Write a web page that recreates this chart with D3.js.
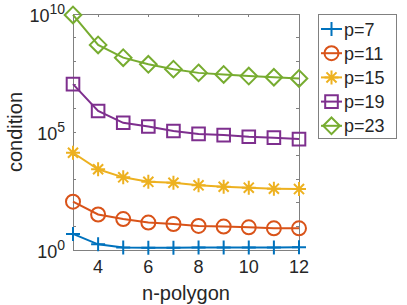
<!DOCTYPE html>
<html lang="en">
<head>
    <meta charset="UTF-8">
    <title>condition vs n-polygon</title>
    <style>
        body { margin: 0; background: #fff; }
        text { font-family: "Liberation Sans", Arial, Helvetica, sans-serif; fill: #262626; }
    </style>
</head>
<body>

<div id="chart"></div>

<script src="https://cdn.jsdelivr.net/npm/d3@7"></script>
<script>
    const width = 407,
          height = 305;

    // n-polygon values
    const nPoly = [3, 4, 5, 6, 7, 8, 9, 10, 11, 12];

    // condition numbers
    const p7  = [4.8, 1.74, 1.29, 1.26, 1.26, 1.29, 1.29, 1.29, 1.29, 1.32];
    const p11 = [112, 32, 20.4, 14.5, 12.6, 10.5, 9.8, 9.1, 8.3, 8.3];
    const p15 = [13200, 2630, 1200, 776, 708, 550, 479, 437, 398, 380];
    const p19 = [1.07e7, 7.8e5, 2.45e5, 1.7e5, 1.1e5, 8.3e4, 7.4e4, 6.3e4, 5.75e4, 5.0e4];
    const p23 = [9.1e9, 4.9e8, 1.41e8, 7.4e7, 4.6e7, 3.2e7, 2.75e7, 2.34e7, 2.09e7, 1.86e7];

    const seriesNames = ["p=7", "p=11", "p=15", "p=19", "p=23"];
    const colors = ["#0072BD", "#D95319", "#EDB120", "#7E2F8E", "#77AC30"];
    const markers = ["plus", "circle", "star", "square", "diamond"];

    const xTicks = [4, 6, 8, 10, 12];
    const yTicks = [1e0, 1e1, 1e2, 1e3, 1e4, 1e5, 1e6, 1e7, 1e8, 1e9, 1e10];
    const yLabelExp = [0, 5, 10];

    const series = [p7, p11, p15, p19, p23].map((vals, i) => ({
        name: seriesNames[i],
        color: colors[i],
        marker: markers[i],
        points: vals.map((v, j) => ({ n: nPoly[j], v: v }))
    }));

    const margin = { left: 73, right: 108, top: 14, bottom: 55 };

    let svg = d3.select("#chart")
        .append("svg")
        .attr("width", width)
        .attr("height", height);

    let x = d3.scaleLinear()
        .domain([3, 12])
        .range([margin.left, width - margin.right]);

    let y = d3.scaleLog()
        .domain([1, 1e10])
        .range([height - margin.bottom, margin.top]);

    const axisColor = "#808080";

    // box
    svg.append("rect")
        .attr("x", x(3))
        .attr("y", y(1e10))
        .attr("width", x(12) - x(3))
        .attr("height", y(1) - y(1e10))
        .attr("fill", "none")
        .attr("stroke", axisColor)
        .attr("stroke-width", 1)
        .attr("shape-rendering", "crispEdges");

    // ticks (inward, both sides)
    let ticks = svg.append("g")
        .attr("stroke", axisColor)
        .attr("shape-rendering", "crispEdges");

    xTicks.forEach(t => {
        ticks.append("line").attr("x1", x(t)).attr("x2", x(t))
            .attr("y1", y(1)).attr("y2", y(1) - 3);
        ticks.append("line").attr("x1", x(t)).attr("x2", x(t))
            .attr("y1", y(1e10)).attr("y2", y(1e10) + 3);
    });
    yTicks.forEach(t => {
        ticks.append("line").attr("x1", x(3)).attr("x2", x(3) + 3)
            .attr("y1", y(t)).attr("y2", y(t));
        ticks.append("line").attr("x1", x(12)).attr("x2", x(12) - 3)
            .attr("y1", y(t)).attr("y2", y(t));
    });

    // tick labels
    svg.append("g")
        .selectAll("text")
        .data(xTicks)
        .join("text")
            .attr("x", d => x(d))
            .attr("y", y(1) + 23)
            .attr("text-anchor", "middle")
            .style("font-size", "18px")
            .text(d => d);

    let yl = svg.append("g")
        .selectAll("text")
        .data(yLabelExp)
        .join("text")
            .attr("x", x(3) - 8)
            .attr("y", d => y(Math.pow(10, d)) + 8)
            .attr("text-anchor", "end")
            .style("font-size", "18px");
    yl.append("tspan").text("10");
    yl.append("tspan")
        .attr("dy", -8)
        .style("font-size", "14px")
        .text(d => d);

    // axis labels
    svg.append("text")
        .attr("x", (x(3) + x(12)) / 2)
        .attr("y", 300)
        .attr("text-anchor", "middle")
        .style("font-size", "20px")
        .text("n-polygon");

    svg.append("text")
        .attr("transform", `translate(22,${(y(1) + y(1e10)) / 2}) rotate(-90)`)
        .attr("text-anchor", "middle")
        .style("font-size", "20px")
        .text("condition");

    // marker shapes
    function markerPath(type) {
        const r = 7;
        switch (type) {
            case "plus":
                return `M${-r},0H${r}M0,${-r}V${r}`;
            case "star": {
                const d = r * 0.72;
                return `M${-r},0H${r}M0,${-r}V${r}M${-d},${-d}L${d},${d}M${-d},${d}L${d},${-d}`;
            }
            case "circle":
                return `M${r},0A${r},${r} 0 1,1 ${-r},0A${r},${r} 0 1,1 ${r},0Z`;
            case "square": {
                const s = 6.3;
                return `M${-s},${-s}H${s}V${s}H${-s}Z`;
            }
            case "diamond": {
                const h = 8.3;
                return `M0,${-h}L${h},0L0,${h}L${-h},0Z`;
            }
        }
    }

    let line = d3.line()
        .x(d => x(d.n))
        .y(d => y(d.v));

    let sg = svg.append("g")
        .selectAll("g")
        .data(series)
        .join("g");

    sg.append("path")
        .attr("d", d => line(d.points))
        .attr("fill", "none")
        .attr("stroke", d => d.color)
        .attr("stroke-width", 2);

    sg.each(function (s) {
        d3.select(this).selectAll(".mk")
            .data(s.points)
            .join("path")
                .attr("class", "mk")
                .attr("transform", d => `translate(${x(d.n)},${y(d.v)})`)
                .attr("d", markerPath(s.marker))
                .attr("fill", "none")
                .attr("stroke", s.color)
                .attr("stroke-width", 2);
    });

    // legend
    let lg = svg.append("g");
    lg.append("rect")
        .attr("x", 318)
        .attr("y", 14)
        .attr("width", 78)
        .attr("height", 124)
        .attr("fill", "#fff")
        .attr("stroke", axisColor)
        .attr("shape-rendering", "crispEdges");

    let item = lg.selectAll(".item")
        .data(series)
        .join("g")
            .attr("class", "item")
            .attr("transform", (d, i) => `translate(0,${29 + i * 24.2})`);

    item.append("line")
        .attr("x1", 321).attr("x2", 342)
        .attr("stroke", d => d.color)
        .attr("stroke-width", 2);

    item.append("path")
        .attr("transform", "translate(331.5,0)")
        .attr("d", d => markerPath(d.marker))
        .attr("fill", "none")
        .attr("stroke", d => d.color)
        .attr("stroke-width", 2);

    item.append("text")
        .attr("x", 344)
        .attr("y", 6.5)
        .style("font-size", "18px")
        .text(d => d.name);
</script>
</body>
</html>
